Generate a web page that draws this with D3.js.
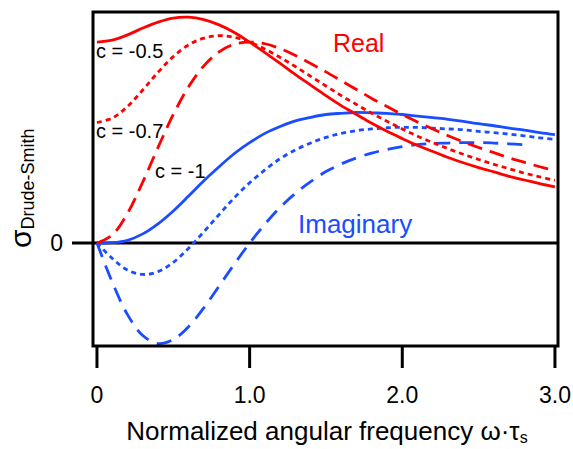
<!DOCTYPE html>
<html>
<head>
<meta charset="utf-8">
<script src="https://cdn.jsdelivr.net/npm/d3@7"></script>
<style>
  body { margin: 0; background: #fff; }
  svg { display: block; font-family: "Liberation Sans", Arial, Helvetica, sans-serif; }
</style>
</head>
<body>
<svg id="chart" width="573" height="449"></svg>
<script>
// normalized frequency w*tau
var omega = [0, 0.1, 0.2, 0.3, 0.4, 0.5, 0.6, 0.7, 0.8, 0.9, 1.0,
             1.1, 1.2, 1.3, 1.4, 1.5, 1.6, 1.7, 1.8, 1.9, 2.0,
             2.1, 2.2, 2.3, 2.4, 2.5, 2.6, 2.7, 2.8, 2.9, 3.0];

// real part, c = -0.5 / -0.7 / -1
var real05 = [0.500, 0.505, 0.518, 0.535, 0.550, 0.560, 0.562, 0.556, 0.543, 0.524, 0.500,
              0.474, 0.447, 0.419, 0.393, 0.367, 0.342, 0.320, 0.298, 0.278, 0.260,
              0.243, 0.228, 0.213, 0.200, 0.188, 0.177, 0.166, 0.157, 0.148, 0.140];
var real07 = [0.300, 0.311, 0.340, 0.381, 0.425, 0.464, 0.493, 0.510, 0.516, 0.512, 0.500,
              0.483, 0.462, 0.439, 0.415, 0.391, 0.367, 0.345, 0.323, 0.303, 0.284,
              0.266, 0.250, 0.235, 0.221, 0.208, 0.196, 0.185, 0.174, 0.165, 0.156];
var real10 = [0.000, 0.020, 0.074, 0.152, 0.238, 0.320, 0.389, 0.441, 0.476, 0.495, 0.500,
              0.496, 0.484, 0.467, 0.447, 0.426, 0.404, 0.382, 0.360, 0.340, 0.320,
              0.301, 0.284, 0.267, 0.252, 0.238, 0.225, 0.212, 0.201, 0.190, 0.180];

// imaginary part, c = -0.5 / -0.7 / -1
var imag05 = [0.000, 0.001, 0.007, 0.023, 0.048, 0.080, 0.117, 0.155, 0.190, 0.223, 0.250,
              0.273, 0.290, 0.304, 0.313, 0.320, 0.323, 0.325, 0.324, 0.323, 0.320,
              0.316, 0.312, 0.308, 0.303, 0.297, 0.292, 0.286, 0.281, 0.275, 0.270];
var imag07 = [0.000, -0.038, -0.067, -0.078, -0.071, -0.048, -0.013, 0.028, 0.071, 0.113, 0.150,
              0.182, 0.210, 0.232, 0.249, 0.263, 0.273, 0.280, 0.284, 0.287, 0.288,
              0.288, 0.286, 0.284, 0.282, 0.278, 0.275, 0.271, 0.267, 0.262, 0.258];
var imag10 = [0.000, -0.097, -0.178, -0.230, -0.250, -0.240, -0.208, -0.161, -0.107, -0.052, 0.000,
              0.047, 0.089, 0.124, 0.153, 0.178, 0.197, 0.212, 0.224, 0.233, 0.240,
              0.245, 0.248, 0.249, 0.250, 0.250, 0.249, 0.247, 0.245, 0.243, 0.240];
var imag10End = 2.85;

var xTicks = [0, 1, 2, 3];
var xTickLabels = ["0", "1.0", "2.0", "3.0"];

var RED = "#ff0000", BLUE = "#1a4dff";

var svg = d3.select("#chart");

var x = d3.scaleLinear().domain([-0.026, 3.02]).range([93, 558]);
var y = d3.scaleLinear().domain([-0.256, 0.575]).range([346, 12]);

// zero line (extends out to the left as the "0" tick)
svg.append("line")
    .attr("x1", 72).attr("x2", x(3.02))
    .attr("y1", y(0)).attr("y2", y(0))
    .attr("stroke", "#000").attr("stroke-width", 3);

function series(vals, limit) {
    return omega.map(function(w, i) { return [w, vals[i]]; })
        .filter(function(d) { return limit == null || d[0] <= limit; });
}

var line = d3.line()
    .x(function(d) { return x(d[0]); })
    .y(function(d) { return y(d[1]); })
    .curve(d3.curveCatmullRom);

var curves = [
    { data: series(imag05), color: BLUE, dash: null },
    { data: series(imag07), color: BLUE, dash: "5,4" },
    { data: series(imag10, imag10End), color: BLUE, dash: "15,9" },
    { data: series(real05), color: RED, dash: null },
    { data: series(real07), color: RED, dash: "5,4" },
    { data: series(real10), color: RED, dash: "15,8" }
];

svg.selectAll("path.curve")
    .data(curves)
    .enter().append("path")
    .attr("class", "curve")
    .attr("d", function(d) { return line(d.data); })
    .attr("fill", "none")
    .attr("stroke", function(d) { return d.color; })
    .attr("stroke-width", 2.8)
    .attr("stroke-dasharray", function(d) { return d.dash; });

// frame
svg.append("rect")
    .attr("x", x.range()[0]).attr("y", y.range()[1])
    .attr("width", x.range()[1] - x.range()[0])
    .attr("height", y.range()[0] - y.range()[1])
    .attr("fill", "none").attr("stroke", "#000").attr("stroke-width", 3);

// x axis ticks below frame
var xAxis = svg.append("g");
xAxis.selectAll("line")
    .data(xTicks)
    .enter().append("line")
    .attr("x1", function(d) { return x(d); })
    .attr("x2", function(d) { return x(d); })
    .attr("y1", y.range()[0]).attr("y2", 368)
    .attr("stroke", "#000").attr("stroke-width", 3);
xAxis.selectAll("text")
    .data(xTicks)
    .enter().append("text")
    .attr("x", function(d) { return x(d); })
    .attr("y", 403)
    .attr("text-anchor", "middle")
    .attr("font-size", 23)
    .text(function(d, i) { return xTickLabels[i]; });

svg.append("text")
    .attr("x", 63).attr("y", y(0) + 8)
    .attr("text-anchor", "end")
    .attr("font-size", 23)
    .text("0");

// axis titles
var xt = svg.append("text")
    .attr("x", 327).attr("y", 440)
    .attr("text-anchor", "middle")
    .attr("font-size", 26);
xt.append("tspan").text("Normalized angular frequency \u03c9\u00b7\u03c4");
xt.append("tspan").attr("font-size", 16).attr("dy", 3).text("s");

var yt = svg.append("text")
    .attr("transform", "translate(31,248) rotate(-90)")
    .attr("font-size", 30);
yt.append("tspan").text("\u03c3");
yt.append("tspan").attr("font-size", 18).attr("dy", 3).text("Drude-Smith");

// annotations
var notes = [
    { t: "c = -0.5", x: 96, y: 58, size: 20, color: "#000" },
    { t: "c = -0.7", x: 96, y: 138, size: 20, color: "#000" },
    { t: "c = -1", x: 155, y: 178, size: 20, color: "#000" },
    { t: "Real", x: 333, y: 52, size: 25, color: RED },
    { t: "Imaginary", x: 298, y: 233, size: 26, color: BLUE }
];
svg.selectAll("text.note")
    .data(notes)
    .enter().append("text")
    .attr("class", "note")
    .attr("x", function(d) { return d.x; })
    .attr("y", function(d) { return d.y; })
    .attr("font-size", function(d) { return d.size; })
    .attr("fill", function(d) { return d.color; })
    .text(function(d) { return d.t; });
</script>
</body>
</html>
